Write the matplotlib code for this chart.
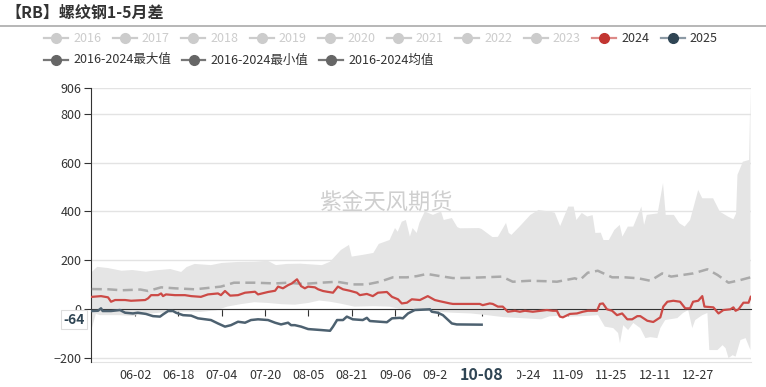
import numpy as np
import pandas as pd
import matplotlib.pyplot as plt
import matplotlib.transforms as mtransforms
from matplotlib.lines import Line2D
from matplotlib.patches import Rectangle

plt.rcParams['font.family'] = ['Noto Sans CJK SC', 'DejaVu Sans']

# day offsets are counted from 2024-05-17
start = pd.Timestamp('2024-05-17')

# 2016-2024 max (upper edge of band)
max_days = [0, 2, 6, 11, 15, 20, 23, 29, 33, 35, 38, 44, 48, 54, 60, 65, 68, 72, 77, 85,
            88, 92, 95, 96, 100, 104, 106, 110, 112, 113, 114.5, 116, 117.5, 118.5, 120, 121,
            123, 126, 129, 130, 133, 135, 136, 143, 144, 148, 150, 153, 154, 155, 158, 162,
            165, 169, 171, 173, 176, 178, 179, 181, 183, 185, 186, 188, 189, 191, 193, 195,
            196, 198, 200, 202, 203, 204, 205, 209, 211, 212, 215, 217, 219, 221, 223, 224,
            225.5, 229.5, 232, 235, 237, 238, 238.5, 240.5, 242.8, 243.3]
max_vals = [152, 173, 168, 157, 160, 153, 158, 164, 152, 172, 185, 180, 189, 193, 194, 198, 180, 185, 186, 180,
            194, 242, 263, 215, 222, 230, 267, 283, 332, 317, 358, 365, 297, 332, 312, 353,
            400, 386, 400, 365, 373, 336, 331, 332, 328, 295, 296, 353, 312, 304, 338, 386,
            406, 400, 395, 340, 420, 420, 365, 394, 379, 385, 312, 313, 283, 283, 324, 345,
            297, 338, 338, 392, 420, 345, 386, 392, 516, 386, 386, 352, 338, 365, 447, 488,
            454, 454, 399, 379, 368, 392, 550, 604, 611, 906]

# 2016-2024 min (lower edge of band)
min_days = [0, 1.5, 3, 10, 15, 20, 25, 30, 35, 40, 46, 48, 50, 55, 60, 65, 70, 75, 80, 84,
            88, 92, 97, 104, 110, 114, 120, 126, 133, 140, 146, 152, 160, 166, 169, 172, 177,
            183, 187, 189.5, 192.6, 194.4, 195.1, 196.3, 198.1, 200, 202.6, 204.5, 206.3, 208.9,
            210, 211.8, 216.3, 218.4, 220.3, 221.8, 222.9, 225.5, 227.4, 228.1, 231.1, 233,
            234.1, 235.2, 236.7, 237.8, 239.6, 241.5, 243.3]
min_vals = [-80, -20, -25, -25, -28, -20, -15, -12, -10, -12, -5, 2, 10, 20, 28, 25, 20, 18, 25, 35,
            30, 22, 10, 12, 10, 0, -5, -10, -15, -18, -25, -33, -38, -42, -30, -28, -31,
            -28, -25, -72, -78, -98, -140, -66, -86, -57, -78, -119, -115, -119,
            -78, -45, -37, -16, -4, -78, -45, -25, -16, -168, -168, -148,
            -160, -201, -189, -195, -127, -119, -168]

# 2016-2024 mean
avg_days = [0, 6, 11, 18, 20.8, 25.6, 30.7, 38.1, 47.7, 52.5, 60.3, 67.7, 72.5, 78, 84.7, 90.6,
            96.4, 101.6, 106.4, 111.2, 116.4, 120.1, 123.8, 128.6, 133.4, 139.6, 147, 151.5,
            155.5, 161.8, 168.1, 171.8, 178.4, 180.3, 183.2, 186.9, 192.2, 197, 201.9, 206.3,
            210.7, 214, 218.4, 222.1, 227.4, 231.1, 235.2, 239.6, 243.3]
avg_vals = [82, 81, 77, 80, 74, 89, 85, 81, 92, 108, 108, 105, 108, 103, 108, 112,
            101, 101, 112, 130, 130, 135, 144, 135, 127, 128, 131, 133,
            112, 116, 114, 112, 126, 119, 149, 157, 130, 130, 126, 116,
            146, 133, 140, 146, 163, 140, 108, 119, 130]

# 2024
y24_days = [0, 3.4, 6, 7.1, 8.6, 12.3, 14.5, 19.7, 20.8, 21.9, 24.5, 25.6, 26.3, 27.4, 30.7, 34.4,
            36.7, 40.3, 42.9, 46.6, 47.7, 49.2, 51.1, 54, 56.6, 60.3, 61.4, 65.1, 67.7, 68.8,
            70.6, 72.5, 73.9, 75.8, 77.3, 78.7, 79.9, 82.4, 83.6, 85.4, 86.9, 89.1, 90.9, 92.8,
            95.3, 97.9, 99, 101.6, 103.8, 105.7, 109, 110.9, 113.1, 114.5, 116.4, 118.2, 121.2,
            124.1, 126.7, 128.6, 132.3, 133.4, 143.3, 144.4, 147, 148.1, 150, 151.8, 153.7,
            156.3, 158.1, 160, 162.9, 168.1, 170.3, 171.8, 172.9, 174, 176.6, 179.2, 181.4,
            183.2, 186.6, 187.7, 188.8, 190.3, 192.2, 194, 195.9, 197.8, 199.6, 201.5, 202.6,
            205.2, 207.4, 210, 211.1, 212.6, 214.8, 217.3, 219.2, 221, 222.1, 224, 225.5,
            226.3, 229.6, 231.5, 233.3, 235.9, 237, 237.8, 238.9, 240.7, 242.6, 243.4]
y24_vals = [50, 53, 48, 30, 37, 37, 34, 37, 44, 57, 57, 64, 53, 60, 57, 57,
            53, 50, 60, 64, 57, 74, 55, 57, 67, 71, 60, 70, 75, 92,
            85, 98, 105, 122, 94, 85, 92, 89, 81, 74, 71, 67, 92, 81,
            75, 67, 57, 62, 53, 67, 70, 50, 40, 23, 26, 40, 37,
            53, 37, 32, 23, 21, 21, 16, 23, 21, 10, 10, -11,
            -7, -11, -7, -11, -4, -7, -7, -31, -34, -20, -18, -11,
            -7, -7, 21, 23, -1, -7, -25, -18, -42, -42, -29, -29,
            -48, -53, -34, 10, 30, 34, 30, 3, 3, 30, 34, 53,
            10, 7, -18, -4, -1, 7, -7, -1, 26, 26, 50]

# 2025
y25_days = [0, 2.3, 3.4, 4, 7.1, 10.4, 12.3, 15.2, 17, 20, 22.6, 25.2, 26.3, 28.2, 30, 31.1,
            33.7, 36.7, 39.2, 44, 46.6, 49.2, 51.4, 54, 56.6, 58.8, 61.4, 65.1, 67.7, 69.9,
            72.5, 73.6, 75, 77.3, 79.9, 84.7, 88, 89.1, 90.6, 92.8, 94.2, 96.4, 100.1, 101.6,
            102.7, 106.4, 109, 110.9, 113.8, 114.9, 116.8, 119.3, 124.9, 125.6, 127.8, 129.7,
            133, 134.8, 144]
y25_vals = [-8, -7, 3, -8, -8, -4, -15, -18, -15, -20, -29, -31, -22, -8, -8, -15,
            -25, -27, -38, -45, -59, -72, -66, -52, -56, -45, -42, -45, -56, -63,
            -56, -66, -66, -72, -82, -86, -89, -72, -45, -45, -31, -42, -45, -36,
            -49, -52, -54, -38, -36, -38, -18, -4, -1, -11, -15, -25,
            -59, -63, -64]

tick_labels = ['06-02', '06-18', '07-04', '07-20', '08-05', '08-21', '09-06',
               '09-22', '10-08', '10-24', '11-09', '11-25', '12-11', '12-27']
current_label = '10-08'

legend_years = ['2016', '2017', '2018', '2019', '2020', '2021', '2022', '2023', '2024', '2025']
legend_stats = ['2016-2024最大值', '2016-2024最小值', '2016-2024均值']

tick_days = (pd.to_datetime(['2024-' + t for t in tick_labels]) - start).days.values

W, H = 766, 387
fig = plt.figure(figsize=(W / 100, H / 100), dpi=100)
ax = fig.add_axes([91 / W, 1 - 362 / H, 660 / W, 274 / H])

ymin, ymax = -217, 906
ax.set_ylim(ymin, ymax)
ax.set_xlim(-0.3, 243.5)

# band between max and min
ax.fill(np.concatenate([max_days, min_days[::-1]]),
        np.concatenate([max_vals, min_vals[::-1]]),
        color='#e5e5e5', lw=0, zorder=1)
ax.plot(avg_days, avg_vals, color='#aaaaaa', lw=1.8, ls=(0, (4, 2.2)), zorder=3)
ax.plot(y24_days, y24_vals, color='#cc4a46', lw=1.6, zorder=4)
ax.plot(y25_days, y25_vals, color='#4d6170', lw=1.8, zorder=5)

ax.set_yticks([-200, 0, 200, 400, 600, 800, 906])
ax.grid(axis='y', color='#e3e3e3', lw=1)
ax.set_axisbelow(True)
for s in ['top', 'right']:
    ax.spines[s].set_visible(False)
ax.spines['left'].set_color('#333333')
ax.spines['bottom'].set_position(('data', 0))
ax.spines['bottom'].set_color('#333333')
ax.spines['bottom'].set_zorder(3.5)
ax.tick_params(axis='y', length=5, color='#333333', labelsize=9, labelcolor='#333333', pad=2)
ax.set_xticks(tick_days)
ax.tick_params(axis='x', length=5, color='#333333', labelbottom=False)

sec = ax.secondary_xaxis('bottom')
sec.set_xticks(tick_days, tick_labels)
sec.tick_params(length=0, pad=5, labelsize=9, labelcolor='#333333')
sec.spines['bottom'].set_color('#e3e3e3')

# highlighted current date on the x axis, its white backing hides the neighbours
cur_day = tick_days[tick_labels.index(current_label)]
blend = mtransforms.blended_transform_factory(ax.transData, ax.transAxes)
ax.add_patch(Rectangle((cur_day - 12.9, -0.09), 25.8, 0.078, transform=blend,
                       fc='white', ec='none', clip_on=False, zorder=9))
ax.annotate(current_label, xy=(cur_day, 0), xycoords=('data', 'axes fraction'),
            xytext=(0, -13), textcoords='offset pixels', ha='center', va='center',
            fontsize=11.5, fontweight='bold', color='#2f4554', zorder=10,
            annotation_clip=False)

# latest value on the y axis
ax.annotate(f'{y25_vals[-1]:.0f}', xy=(0, y25_vals[-1]), xycoords=('axes fraction', 'data'),
            xytext=(-17, 5), textcoords='offset pixels', ha='center', va='center',
            fontsize=10, fontweight='bold', color='#2f4554', zorder=10,
            annotation_clip=False,
            bbox=dict(boxstyle='square,pad=0.2', fc='white', ec='#dddddd', lw=0.8))

ax.text(0.447, 0.58, '紫金天风期货', transform=ax.transAxes, fontsize=16,
        color='#cfcfcf', ha='center', va='center', zorder=6)

# title and separator
fig.text(5 / W, 1 - 13 / H, '【RB】螺纹钢1-5月差', fontsize=11.5, fontweight='bold',
         color='#333333', ha='left', va='center')
fig.add_artist(Line2D([0, 1], [1 - 26 / H] * 2, color='#aaaaaa', lw=1.2))


def legend_item(cx, cy, text, line_c, dot_c, text_c):
    fy = 1 - cy / H
    fig.add_artist(Line2D([(cx - 12) / W, (cx + 12) / W], [fy, fy], color=line_c, lw=1.6))
    fig.add_artist(Line2D([cx / W], [fy], marker='o', ms=7, color=dot_c, mec=dot_c))
    fig.text((cx + 17) / W, fy, text, fontsize=9, color=text_c, ha='left', va='center')


for i, name in enumerate(legend_years):
    if name == '2024':
        legend_item(56 + i * 68.5, 38, name, '#dd8a88', '#c23531', '#333333')
    elif name == '2025':
        legend_item(56 + i * 68.5, 38, name, '#8c9aa5', '#2f4554', '#333333')
    else:
        legend_item(56 + i * 68.5, 38, name, '#cccccc', '#cccccc', '#cccccc')
for i, name in enumerate(legend_stats):
    legend_item(56 + i * 137.5, 60, name, '#777777', '#666666', '#333333')

plt.savefig('out.png', dpi=100)
